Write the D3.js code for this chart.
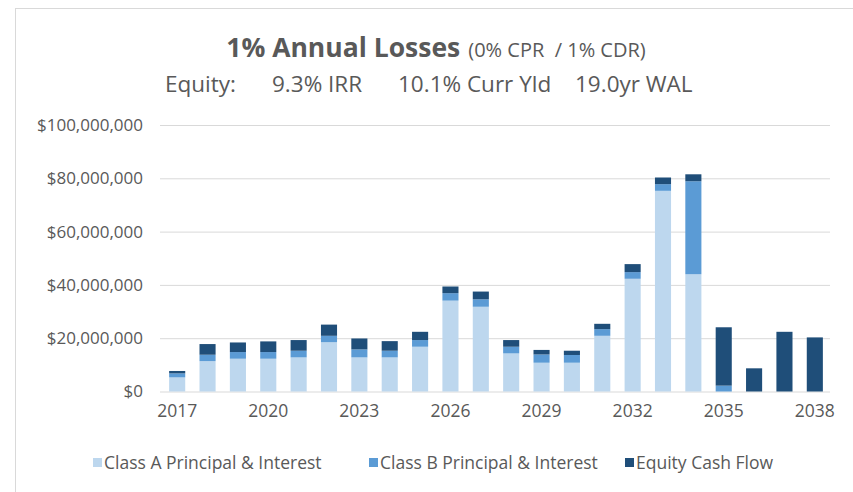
<!DOCTYPE html>
<html>
<head>
<meta charset="utf-8">
<script src="https://cdn.jsdelivr.net/npm/d3@7"></script>
<style>
  body { margin: 0; background: #fff; }
  svg text { font-family: "Open Sans", sans-serif; fill: #595959; }
</style>
</head>
<body>
<div id="chart"></div>
<script>
// values in $ millions
var years = ["2017","2018","2019","2020","2021","2022","2023","2024","2025","2026","2027",
             "2028","2029","2030","2031","2032","2033","2034","2035","2036","2037","2038"];
var classA = [5.3, 11.4, 12.3, 12.3, 12.8, 18.5, 12.8, 12.8, 16.8, 34.1, 31.8,
              14.3, 10.8, 10.8, 20.9, 42.3, 75.3, 44.0, 0, 0, 0, 0];
var classB = [1.5, 2.4, 2.5, 2.5, 2.5, 2.4, 3.0, 2.5, 2.5, 2.8, 2.8,
              2.5, 3.1, 2.9, 2.5, 2.5, 2.5, 34.9, 2.2, 0, 0, 0];
var equity = [0.9, 4.0, 3.6, 4.0, 4.0, 4.2, 4.1, 3.6, 3.1, 2.5, 2.9,
              2.5, 1.7, 1.6, 2.0, 3.0, 2.5, 2.6, 21.9, 8.7, 22.4, 20.3];
var yTicks = [0, 20000000, 40000000, 60000000, 80000000, 100000000];
var xTicks = ["2017","2020","2023","2026","2029","2032","2035","2038"];
var seriesNames = ["Class A Principal & Interest", "Class B Principal & Interest", "Equity Cash Flow"];
var colors = ["#BDD7EE", "#5B9BD5", "#1F4E79"];

var W = 853, H = 492;
var svg = d3.select("#chart").append("svg")
    .attr("width", W)
    .attr("height", H);

// chart frame
svg.append("rect")
    .attr("x", 15.5).attr("y", 8.5)
    .attr("width", W).attr("height", H)
    .attr("fill", "none")
    .attr("stroke", "#d9d9d9");

var x = d3.scaleBand().domain(years).range([162, 830]).paddingInner(0.47).paddingOuter(0.235);
var y = d3.scaleLinear().domain([0, 100000000]).range([391.5, 125]);

// gridlines + y labels
var yAxis = d3.axisLeft(y).tickValues(yTicks)
    .tickSize(-(830 - 160))
    .tickPadding(17)
    .tickFormat(function(d) { return "$" + d3.format(",")(d); });
var gy = svg.append("g").attr("transform", "translate(160,0)").call(yAxis);
gy.select(".domain").remove();
gy.selectAll(".tick line").attr("stroke", "#d9d9d9");
gy.selectAll(".tick text").style("font-size", "17px").attr("fill", "#595959");

// stacked bars
var rows = years.map(function(yr, i) {
    return { year: yr, a: classA[i] * 1e6, b: classB[i] * 1e6, e: equity[i] * 1e6 };
});
var stack = d3.stack().keys(["a", "b", "e"]);
var layers = stack(rows);

svg.append("g").selectAll("g")
    .data(layers)
    .enter().append("g")
        .attr("fill", function(d, i) { return colors[i]; })
    .selectAll("rect")
    .data(function(d) { return d; })
    .enter().append("rect")
        .attr("x", function(d) { return x(d.data.year); })
        .attr("width", x.bandwidth())
        .attr("y", function(d) { return y(d[1]); })
        .attr("height", function(d) { return y(d[0]) - y(d[1]); });

// x axis labels
var xAxis = d3.axisBottom(x).tickValues(xTicks).tickSize(0).tickPadding(13);
var gx = svg.append("g").attr("transform", "translate(0,391.5)").call(xAxis);
gx.select(".domain").remove();
gx.selectAll(".tick text").style("font-size", "17.5px").attr("fill", "#595959");

// title
var title = svg.append("text")
    .attr("x", 436).attr("y", 57)
    .attr("text-anchor", "middle");
title.append("tspan").style("font-size", "26.5px").style("font-weight", "bold").text("1% Annual Losses");
title.append("tspan").style("font-size", "20px").attr("dx", 8).text("(0% CPR\u00a0 / 1% CDR)");

var sub = svg.append("text").attr("y", 92).style("font-size", "22.5px");
sub.append("tspan").attr("x", 165).text("Equity:");
sub.append("tspan").attr("x", 272).text("9.3% IRR");
sub.append("tspan").attr("x", 398).text("10.1% Curr Yld");
sub.append("tspan").attr("x", 575).text("19.0yr WAL");

// legend
var legendX = [93, 369, 625];
var legend = svg.append("g").selectAll("g")
    .data(seriesNames)
    .enter().append("g")
        .attr("transform", function(d, i) { return "translate(" + legendX[i] + ",463)"; });
legend.append("rect")
    .attr("x", 0).attr("y", -5)
    .attr("width", 9).attr("height", 9)
    .attr("fill", function(d, i) { return colors[i]; });
legend.append("text")
    .attr("x", 11).attr("y", 6)
    .style("font-size", "17.5px")
    .text(function(d) { return d; });
</script>
</body>
</html>
